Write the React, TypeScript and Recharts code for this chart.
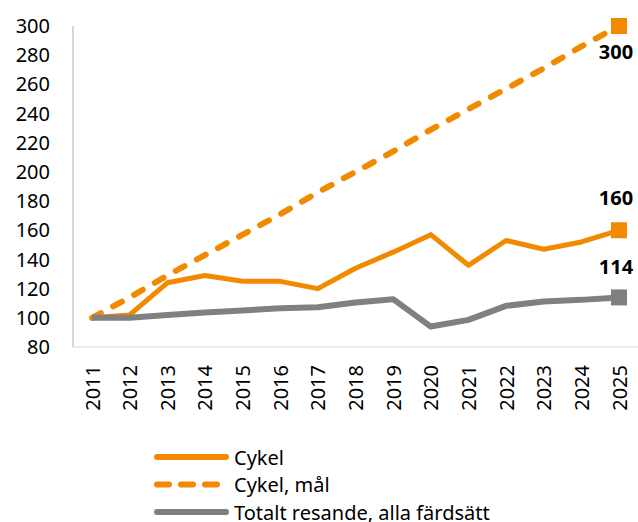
import React from 'react';
import { LineChart, Line, XAxis, YAxis, Legend } from 'recharts';

const years = ['2011', '2012', '2013', '2014', '2015', '2016', '2017', '2018', '2019', '2020', '2021', '2022', '2023', '2024', '2025'];
const cykel = [100, 102, 124, 129, 125, 125, 120, 134, 145, 157, 136, 153, 147, 152, 160];
const cykelMal = [100, 114, 129, 143, 157, 171, 186, 200, 214, 229, 243, 257, 271, 286, 300];
const totalt = [100, 100, 102, 103.6, 105, 106.6, 107.3, 110.5, 112.8, 94, 98.6, 108.2, 111.2, 112.3, 114];
const yTicks = [80, 100, 120, 140, 160, 180, 200, 220, 240, 260, 280, 300];

const ORANGE = '#F18A00';
const GRAY = '#808080';

const series = [
  { key: 'cykel', name: 'Cykel', color: ORANGE, dash: undefined as string | undefined, width: 5, labelDy: -33 },
  { key: 'mal', name: 'Cykel, mål', color: ORANGE, dash: '10 14', width: 6, labelDy: 25 },
  { key: 'totalt', name: 'Totalt resande, alla färdsätt', color: GRAY, dash: undefined as string | undefined, width: 6, labelDy: -31 },
];

const data = years.map((y, i) => ({ year: y, cykel: cykel[i], mal: cykelMal[i], totalt: totalt[i] }));

const lastIndex = years.length - 1;

const makeDot = (color: string) => (props: any) => {
  const { cx, cy, index } = props;
  if (index !== lastIndex) return <g key={`d${index}`} />;
  return <rect key={`d${index}`} x={cx - 8} y={cy - 8} width={16} height={16} fill={color} />;
};

const makeLabel = (dy: number) => (props: any) => {
  const { x, y, value, index } = props;
  if (index !== lastIndex) return <g key={`l${index}`} />;
  return (
    <text key={`l${index}`} x={x - 3} y={y + dy} textAnchor="middle" dominantBaseline="central" fontWeight="bold" fontSize={20} fill="#000">
      {value}
    </text>
  );
};

const XTick = (props: any) => {
  const { x, y, payload } = props;
  return (
    <text x={x} y={y} transform={`rotate(-90 ${x} ${y})`} textAnchor="end" dominantBaseline="central" fontSize={20} fill="#000">
      {payload.value}
    </text>
  );
};

const LegendContent = () => (
  <svg width={420} height={84} style={{ fontFamily: 'Noto Sans' }}>
    {series.map((s, i) => {
      const cy = 17 + i * 27.5;
      return (
        <g key={s.key}>
          <line x1={9} x2={78} y1={cy} y2={cy} stroke={s.color} strokeWidth={6} strokeLinecap="round" strokeDasharray={s.dash ? '12 12' : undefined} />
          <text x={86} y={cy} dominantBaseline="central" fontSize={20} fill="#000">{s.name}</text>
        </g>
      );
    })}
  </svg>
);

export default function App() {
  return (
    <div style={{ position: 'absolute', left: 0, top: 0, width: 638, height: 522, background: '#fff' }}>
      <LineChart width={638} height={522} data={data} margin={{ top: 26, right: 0, bottom: 115, left: 0 }} style={{ fontFamily: 'Noto Sans' }}>
        <XAxis
          dataKey="year"
          padding={{ left: 19, right: 19 }}
          height={60}
          tickLine={false}
          tickSize={0}
          tickMargin={18}
          interval={0}
          stroke="#d9d9d9"
          tick={<XTick />}
        />
        <YAxis
          domain={[80, 300]}
          ticks={yTicks}
          width={73}
          tickLine={false}
          tickSize={0}
          tickMargin={23}
          interval={0}
          stroke="#b0b0b0"
          tick={{ fill: '#000', fontSize: 20 }}
        />
        {series.map((s) => (
          <Line
            key={s.key}
            dataKey={s.key}
            name={s.name}
            stroke={s.color}
            strokeWidth={s.width}
            strokeDasharray={s.dash}
            strokeLinecap={s.dash ? 'round' : 'butt'}
            strokeLinejoin="round"
            type="linear"
            dot={makeDot(s.color)}
            activeDot={false}
            label={makeLabel(s.labelDy)}
            isAnimationActive={false}
          />
        ))}
        <Legend
          layout="vertical"
          align="center"
          verticalAlign="middle"
          wrapperStyle={{ position: 'absolute', left: 148, top: 440, width: 420, height: 84 }}
          content={() => <LegendContent />}
        />
      </LineChart>
    </div>
  );
}
